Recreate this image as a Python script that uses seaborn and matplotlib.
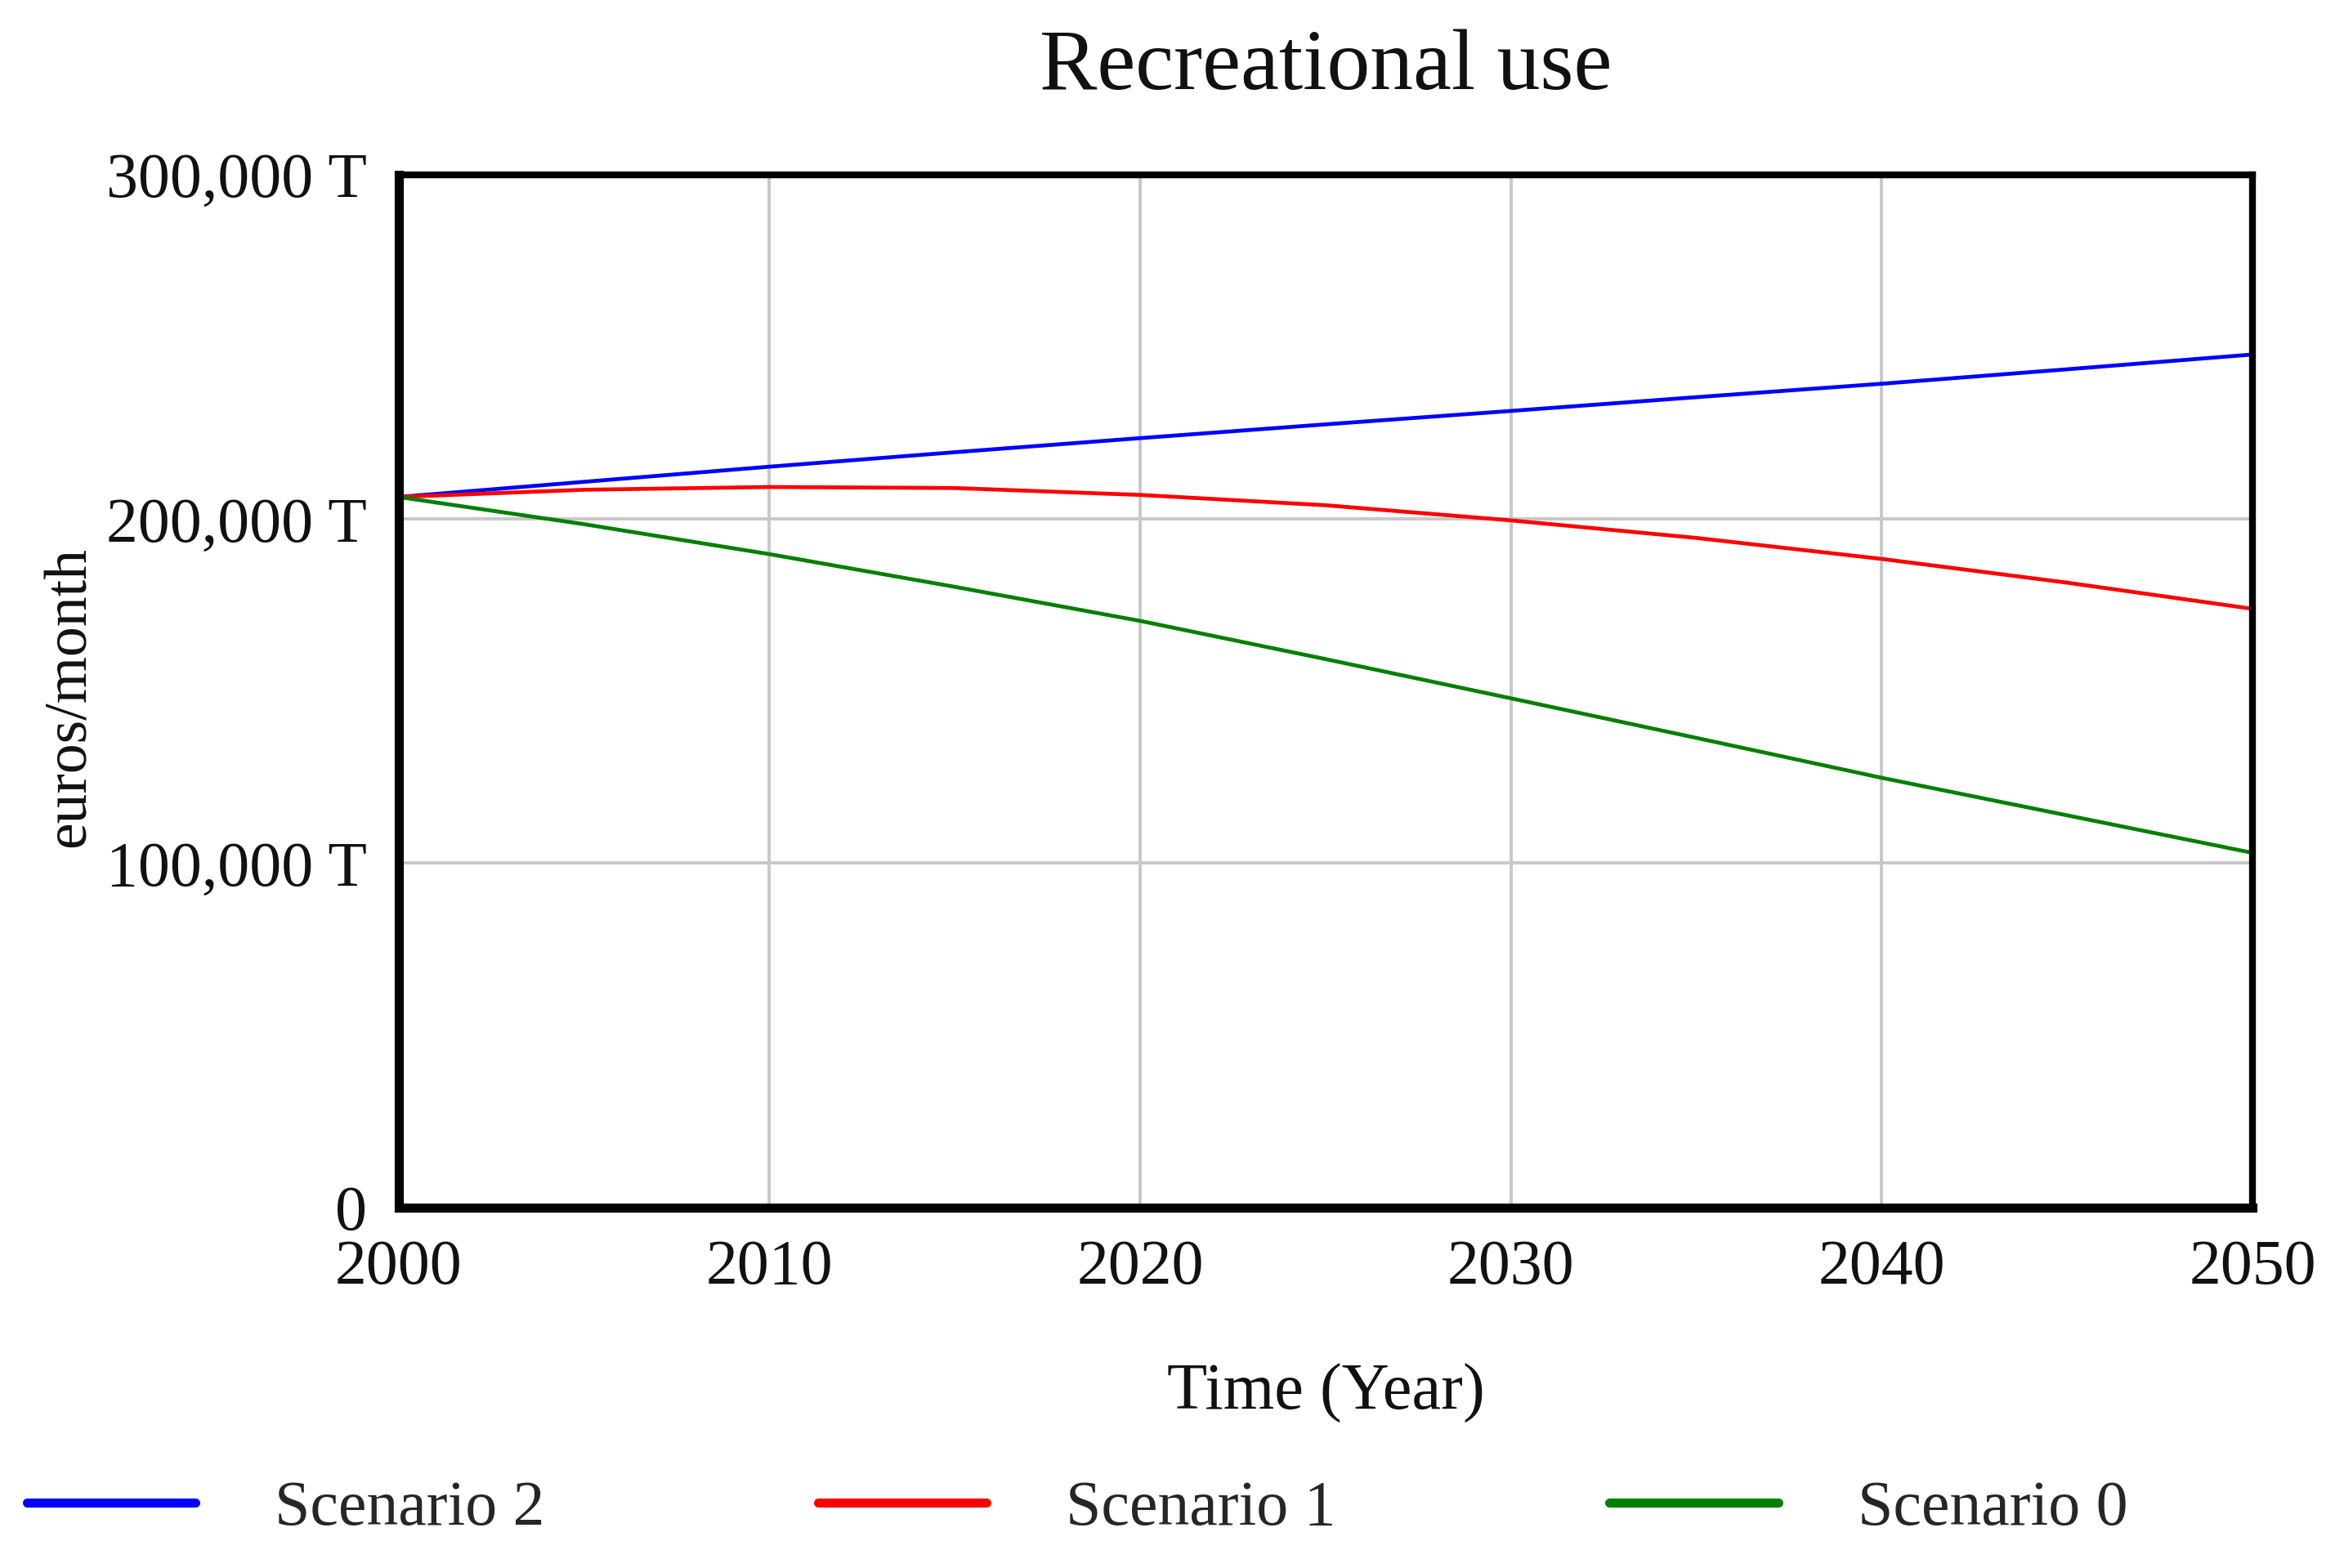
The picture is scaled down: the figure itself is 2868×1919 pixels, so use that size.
import pandas as pd
import matplotlib.pyplot as plt
import matplotlib.ticker as mticker
import seaborn as sns

sns.set_theme(style="white")
plt.rcParams["font.family"] = ["Liberation Serif", "DejaVu Serif"]

years = [2000, 2005, 2010, 2015, 2020, 2025, 2030, 2035, 2040, 2045, 2050]
# euros/month, in thousands of T
scenario_2 = [206.4, 210.8, 215.2, 219.4, 223.5, 227.5, 231.4, 235.4, 239.3, 243.5, 247.8]
scenario_1 = [206.4, 208.5, 209.3, 209.0, 207.0, 204.0, 199.6, 194.5, 188.4, 181.5, 173.9]
scenario_0 = [206.4, 198.5, 189.8, 180.3, 170.4, 159.3, 147.9, 136.4, 124.8, 113.9, 103.0]

names = ["Scenario 2", "Scenario 1", "Scenario 0"]
colors = {"Scenario 2": "#0000ff", "Scenario 1": "#ff0000", "Scenario 0": "#008000"}

df = pd.concat([
    pd.DataFrame({"Year": years, "Value": [v * 1000 for v in vals], "Scenario": n})
    for n, vals in zip(names, [scenario_2, scenario_1, scenario_0])
])

fig = plt.figure(figsize=(28.68, 19.19), dpi=100)
ax = fig.add_axes([0.170, 0.230, 0.791, 0.6585])

sns.lineplot(data=df, x="Year", y="Value", hue="Scenario", hue_order=names,
             palette=colors, lw=3.4, ax=ax, legend=True)

ax.set_xlim(2000, 2050)
ax.set_ylim(0, 300000)
ax.set_xticks([2000, 2010, 2020, 2030, 2040, 2050])
ax.set_yticks([0, 100000, 200000, 300000])
ax.yaxis.set_major_formatter(mticker.FuncFormatter(
    lambda v, p: "0" if v == 0 else f"{v:,.0f} T"))
ax.grid(True, color="#c8c8c8", lw=2.8)
ax.tick_params(axis="both", length=0, labelsize=56, colors="#111111")
ax.tick_params(axis="y", pad=28)
ax.tick_params(axis="x", pad=28)

for side in ["left", "bottom"]:
    ax.spines[side].set_linewidth(8)
    ax.spines[side].set_color("black")
for side in ["top", "right"]:
    ax.spines[side].set_linewidth(6)
    ax.spines[side].set_color("black")

ax.set_xlabel("")
ax.set_ylabel("")
fig.text(86 / 2868, 1 - 853 / 1919, "euros/month", rotation=90,
         ha="center", va="center", fontsize=53, color="#111111")
fig.text(0.5656, 1 - 1705 / 1919, "Time (Year)", ha="center", va="center",
         fontsize=58, color="#111111")
fig.text(0.5656, 1 - 84 / 1919, "Recreational use", ha="center", va="center",
         fontsize=76, color="#111111")

handles, labels = ax.get_legend_handles_labels()
ax.get_legend().remove()
leg = fig.legend(handles, labels, loc="center left",
                 bbox_to_anchor=(33 / 2868, 1 - 1847 / 1919),
                 ncol=3, frameon=False, fontsize=56, handlelength=2.65,
                 handletextpad=1.25, columnspacing=4.3, borderpad=0,
                 borderaxespad=0)
for line in leg.get_lines():
    line.set_linewidth(8)

fig.savefig("out.png", dpi=100, facecolor="white")
